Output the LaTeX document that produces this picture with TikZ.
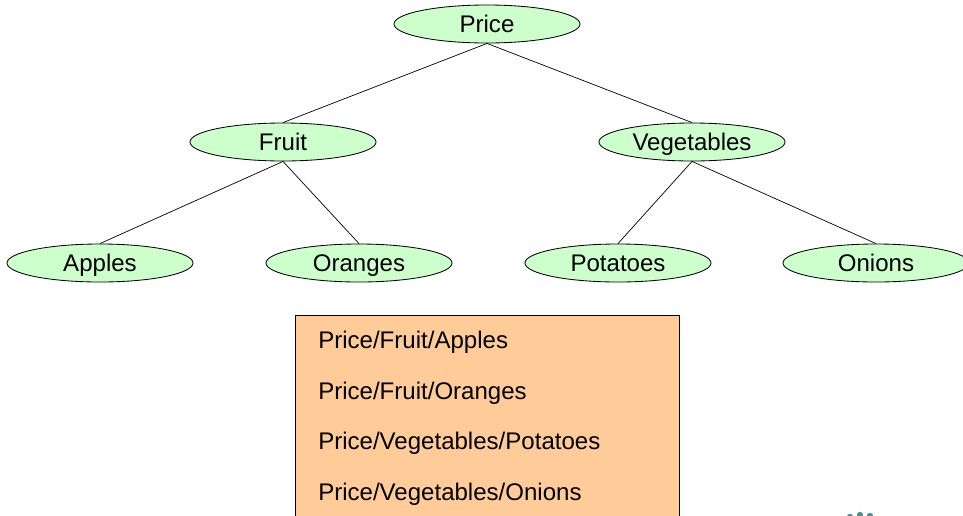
\documentclass[tikz,border=0pt]{standalone}
\usepackage{fontspec}
\setmainfont{Liberation Sans}
\usepackage{xcolor}
\usetikzlibrary{shapes.geometric,positioning}
\definecolor{leafgreen}{HTML}{CCFFCC}
\definecolor{boxorange}{HTML}{FFCC99}
\definecolor{dotteal}{HTML}{4F8F8F}
\tikzset{
  cat/.style={ellipse,draw,line width=0.6pt,fill=leafgreen,minimum width=4.65cm,minimum height=0.95cm,inner sep=0pt,text height=0.43cm,text depth=0pt,font=\fontsize{17.1}{20}\selectfont},
  pathlabel/.style={anchor=west,inner sep=0pt,text height=0.43cm,text depth=0pt,font=\fontsize{17.1}{20}\selectfont},
  link/.style={draw,line width=0.5pt},
  logodot/.style={circle,fill=dotteal,minimum size=0.16cm,inner sep=0pt}
}
\begin{document}
\begin{tikzpicture}[x=0.025cm,y=-0.025cm]
\useasboundingbox (0,0) rectangle (963,515);
\clip (0,0) rectangle (963,515);
% Orange box, runs off the bottom
\node[draw,fill=boxorange,line width=0.6pt,minimum width=9.6cm,minimum height=6cm,anchor=north west,inner sep=0pt] (listbox) at (295,315) {};
% Tree
\node[cat] (price) at (487,24) {Price};
\node[cat] (fruit) at (283,142) {Fruit};
\node[cat] (veg) at (692,142) {Vegetables};
\node[cat] (apples) at (100,263) {Apples};
\node[cat] (oranges) at (359,263) {Oranges};
\node[cat] (potatoes) at (618,263) {Potatoes};
\node[cat] (onions) at (876,263) {Onions};
\draw[link] (price.south) -- (fruit.north);
\draw[link] (price.south) -- (veg.north);
\draw[link] (fruit.south) -- (apples.north);
\draw[link] (fruit.south) -- (oranges.north);
\draw[link] (veg.south) -- (potatoes.north);
\draw[link] (veg.south) -- (onions.north);
% Paths
\node[pathlabel] (path1) at (318,339.5) {Price/Fruit/Apples};
\node[pathlabel] (path2) at (318,390.5) {Price/Fruit/Oranges};
\node[pathlabel] (path3) at (318,440.5) {Price/Vegetables/Potatoes};
\node[pathlabel] (path4) at (318,491.5) {Price/Vegetables/Onions};
% Bits of the logo, cut off by the edge
\node[logodot] (dot1) at (850,517) {};
\node[logodot] (dot2) at (860,515) {};
\node[logodot] (dot3) at (870,516) {};
\end{tikzpicture}
\end{document}
